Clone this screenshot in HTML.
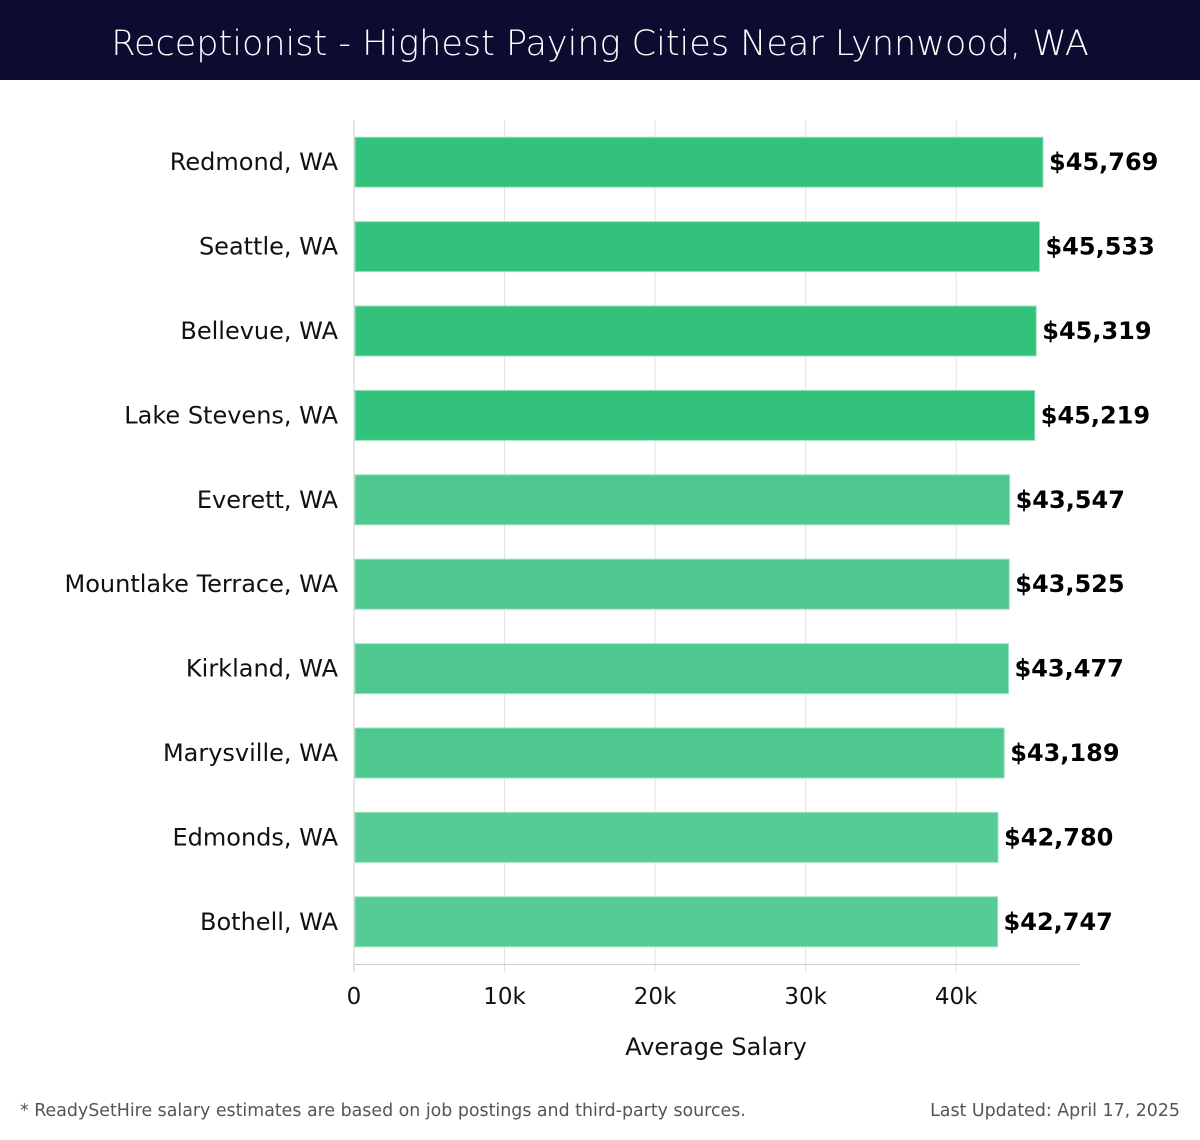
<!DOCTYPE html>
<html><head><meta charset="utf-8"><style>
body{margin:0;width:1200px;height:1140px;background:#fff;font-family:"Liberation Sans",sans-serif;overflow:hidden}
#hdr{position:absolute;left:0;top:0;width:1200px;height:80px;background:#0b0c30;color:#fff;font-size:35px;text-align:center;line-height:88px;font-family:"DejaVu Sans","Liberation Sans",sans-serif;font-weight:300}
.foot{position:absolute;top:1101px;font-size:17.4px;color:#555;font-family:"DejaVu Sans","Liberation Sans",sans-serif}
</style></head><body>
<div id="hdr">Receptionist - Highest Paying Cities Near Lynnwood, WA</div>
<svg id="chart" width="1200" height="1140" style="position:absolute;left:0;top:0;pointer-events:none"></svg>
<div class="foot" style="left:20px">* ReadySetHire salary estimates are based on job postings and third-party sources.</div>
<div class="foot" style="right:20px">Last Updated: April 17, 2025</div>
<script>
const cities=["Redmond, WA","Seattle, WA","Bellevue, WA","Lake Stevens, WA","Everett, WA","Mountlake Terrace, WA","Kirkland, WA","Marysville, WA","Edmonds, WA","Bothell, WA"];
const salaries=[45769,45533,45319,45219,43547,43525,43477,43189,42780,42747];
const tickValues=[0,10000,20000,30000,40000];
const tickLabels=["0","10k","20k","30k","40k"];
const svg=document.getElementById('chart');
const NS='http://www.w3.org/2000/svg';
const x0=354,pxPer=0.015055,top0=120,step=84.4,barH=50;
const xs=v=>x0+v*pxPer;
const yc=i=>top0+step*i+step/2;
const FF='DejaVu Sans, Liberation Sans, sans-serif';
function mk(t,a,txt){const e=document.createElementNS(NS,t);for(const k in a)e.setAttribute(k,a[k]);if(txt!=null)e.textContent=txt;svg.appendChild(e);return e;}
tickValues.forEach((v,i)=>{
 const g=mk('line',{x1:xs(v),x2:xs(v),y1:top0,y2:972,stroke:i==0?'#ccc':'#e2e2e2','stroke-width':1});
 
 
 const t=mk('text',{x:xs(v),y:1004,'font-size':23,'text-anchor':'middle',fill:'#111','font-family':FF},tickLabels[i]);
 
 
});
const ax=mk('line',{x1:x0,x2:1080,y1:964.5,y2:964.5,stroke:'#ccc'});


const maxV=Math.max(...salaries);
salaries.forEach((v,i)=>{
 const d=maxV-v;
 const col=d<1000?'#33c27c':(d<2800?'#4ec88e':'#56cb95');
 const r=mk('rect',{x:x0+1,y:yc(i)-barH/2,width:xs(v)-x0-1,height:barH,fill:col,stroke:'#9be3bf','stroke-width':1});
 
 
 const l=mk('text',{x:xs(v)+6,y:yc(i)+8,'font-size':24,'font-weight':'bold',fill:'#000','font-family':FF},'$'+v.toLocaleString('en-US'));
 
 
 const c=mk('text',{x:338,y:yc(i)+8,'font-size':24,'text-anchor':'end',fill:'#111','font-family':FF},cities[i]);
 
 
});
const xt=mk('text',{x:716,y:1055,'font-size':24,'text-anchor':'middle',fill:'#111','font-family':FF},'Average Salary');


</script>
</body></html>
